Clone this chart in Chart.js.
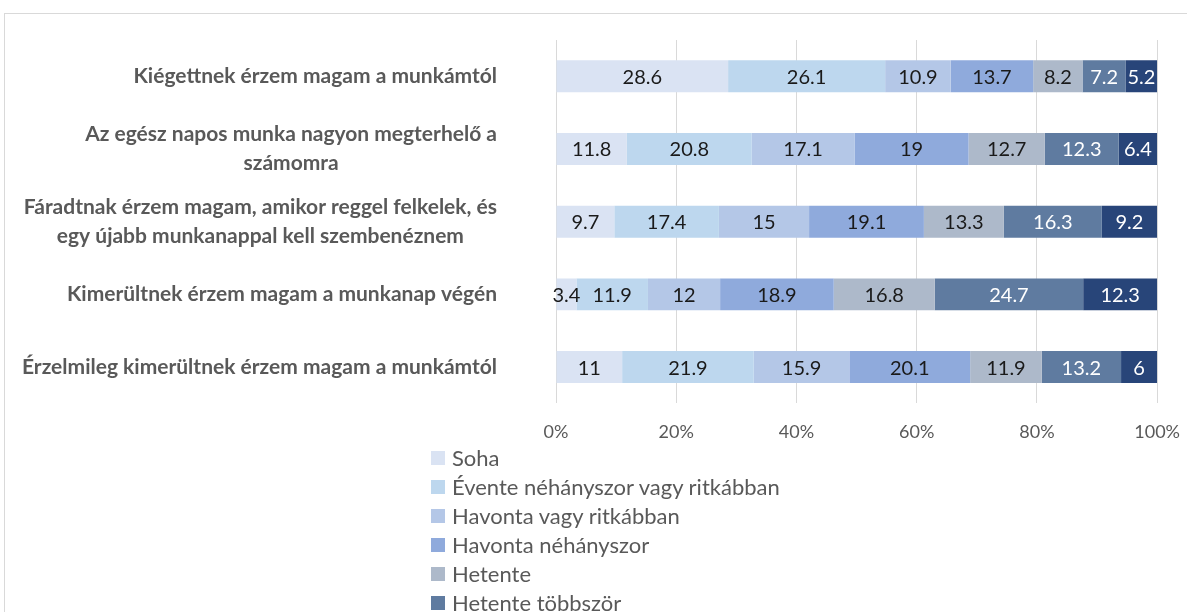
<!DOCTYPE html>
<html>
<head>
<meta charset="utf-8">
<script src="https://cdn.jsdelivr.net/npm/chart.js@4"></script>
<style>
  html, body { margin: 0; padding: 0; background: #fff; overflow: hidden; }
  body { width: 1187px; height: 612px; position: relative; }
  #frame { position: absolute; left: 4px; top: 13px; width: 1220px; height: 640px; border: 1px solid #d9d9d9; }
  #wrap { position: absolute; left: 0; top: 0; width: 1198px; height: 477px; }
  #legend { position: absolute; left: 431px; top: 443px; font: 22px Lato, sans-serif; color: #595959; }
  .leg-item { height: 29px; display: flex; align-items: center; }
  .leg-box { width: 14px; height: 14px; margin-right: 7px; }
</style>
</head>
<body>
<div id="frame"></div>
<div id="wrap"><canvas id="chart"></canvas></div>
<div id="legend"></div>
<script>
const categories = [
  ['Kiégettnek érzem magam a munkámtól'],
  ['Az egész napos munka nagyon megterhelő a', 'számomra'],
  ['Fáradtnak érzem magam, amikor reggel felkelek, és', 'egy újabb munkanappal kell szembenéznem'],
  ['Kimerültnek érzem magam a munkanap végén'],
  ['Érzelmileg kimerültnek érzem magam a munkámtól']
];

const seriesNames = ['Soha', 'Évente néhányszor vagy ritkábban', 'Havonta vagy ritkábban',
  'Havonta néhányszor', 'Hetente', 'Hetente többször', 'Naponta'];
const seriesColors = ['#dae3f3', '#bdd7ee', '#b4c7e7', '#8faadc', '#adb9ca', '#5f7ba0', '#284579'];
const labelColors = ['#1a1a1a', '#1a1a1a', '#1a1a1a', '#1a1a1a', '#1a1a1a', '#ffffff', '#ffffff'];

// one array per series, values in category order
const soha       = [28.6, 11.8, 9.7, 3.4, 11];
const evente     = [26.1, 20.8, 17.4, 11.9, 21.9];
const havontaRit = [10.9, 17.1, 15, 12, 15.9];
const havontaNeh = [13.7, 19, 19.1, 18.9, 20.1];
const hetente    = [8.2, 12.7, 13.3, 16.8, 11.9];
const hetenteTob = [7.2, 12.3, 16.3, 24.7, 13.2];
const naponta    = [5.2, 6.4, 9.2, 12.3, 6];

const xTicks = [0, 20, 40, 60, 80, 100];

const series = [soha, evente, havontaRit, havontaNeh, hetente, hetenteTob, naponta];
const rowTotals = categories.map((_, j) => series.reduce((s, arr) => s + arr[j], 0));

const datasets = series.map((vals, i) => ({
  label: seriesNames[i],
  data: vals.map((v, j) => v / rowTotals[j] * 100),
  raw: vals,
  backgroundColor: seriesColors[i],
  borderWidth: 0,
  barPercentage: 0.44,
  categoryPercentage: 1
}));

const catLabels = {
  id: 'catLabels',
  afterDraw(chart) {
    const { ctx, scales: { y }, chartArea } = chart;
    ctx.save();
    ctx.font = 'bold 21px Lato, sans-serif';
    ctx.fillStyle = '#595959';
    ctx.textBaseline = 'middle';
    ctx.textAlign = 'center';
    const right = chartArea.left - 59;
    categories.forEach((lines, i) => {
      const yc = y.getPixelForTick(i);
      const cx = right - ctx.measureText(lines[0]).width / 2;
      lines.forEach((ln, k) => {
        ctx.fillText(ln, cx, yc + (k - (lines.length - 1) / 2) * 29);
      });
    });
    ctx.restore();
  }
};

const valueLabels = {
  id: 'valueLabels',
  afterDatasetsDraw(chart) {
    const { ctx } = chart;
    ctx.save();
    ctx.font = '20px Lato, sans-serif';
    ctx.textAlign = 'center';
    ctx.textBaseline = 'middle';
    chart.data.datasets.forEach((ds, i) => {
      const meta = chart.getDatasetMeta(i);
      ctx.fillStyle = labelColors[i];
      meta.data.forEach((bar, j) => {
        const { x, y, base } = bar.getProps(['x', 'y', 'base'], true);
        ctx.fillText(String(ds.raw[j]), (x + base) / 2, y + 1);
      });
    });
    ctx.restore();
  }
};

new Chart(document.getElementById('chart'), {
  type: 'bar',
  data: { labels: categories.map(c => c.join(' ')), datasets },
  options: {
    indexAxis: 'y',
    responsive: true,
    maintainAspectRatio: false,
    animation: false,
    layout: { padding: { left: 556, top: 40, right: 20, bottom: 16 } },
    plugins: { legend: { display: false }, tooltip: { enabled: false } },
    scales: {
      x: {
        stacked: true,
        min: 0,
        max: 100,
        afterBuildTicks: axis => { axis.ticks = xTicks.map(v => ({ value: v })); },
        ticks: { color: '#595959', font: { family: 'Lato', size: 18 }, padding: 18, callback: v => v + '%' },
        grid: { color: '#d9d9d9', drawTicks: false },
        border: { display: false }
      },
      y: {
        stacked: true,
        display: false
      }
    }
  },
  plugins: [catLabels, valueLabels]
});

const legend = document.getElementById('legend');
seriesNames.forEach((name, i) => {
  const item = document.createElement('div');
  item.className = 'leg-item';
  item.innerHTML = `<span class="leg-box" style="background:${seriesColors[i]}"></span><span>${name}</span>`;
  legend.appendChild(item);
});
</script>
</body>
</html>
